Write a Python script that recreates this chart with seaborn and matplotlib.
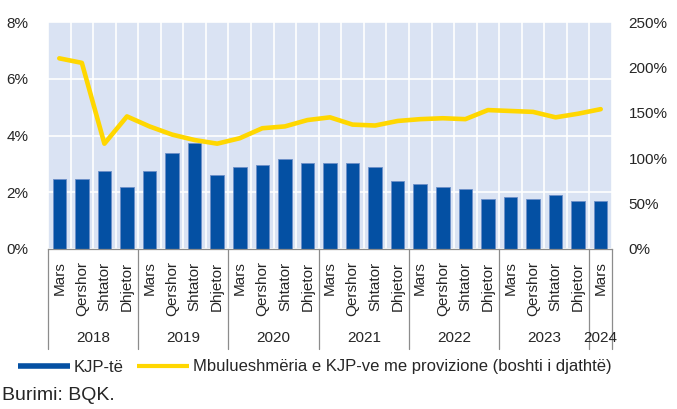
import matplotlib
matplotlib.use("Agg")
import matplotlib.pyplot as plt
from matplotlib.lines import Line2D
from matplotlib.ticker import FuncFormatter, MultipleLocator
import seaborn as sns
import pandas as pd
import numpy as np

# Quarterly data, March 2018 - March 2024
years = ["2018", "2019", "2020", "2021", "2022", "2023", "2024"]
months = ["Mars", "Qershor", "Shtator", "Dhjetor"]
quarter_labels = months * 6 + ["Mars"]
quarter_years = [y for y in years[:-1] for _ in range(4)] + ["2024"]

# Non-performing loans ratio (%), left axis
kjp = [2.48, 2.48, 2.76, 2.19,
       2.76, 3.38, 3.74, 2.62,
       2.90, 2.97, 3.17, 3.03,
       3.03, 3.03, 2.90, 2.41,
       2.28, 2.19, 2.12, 1.77,
       1.84, 1.77, 1.91, 1.70,
       1.70]

# Provision coverage of NPLs (%), right axis
coverage = [210, 205, 116, 146,
            135, 126, 120, 116,
            122, 133, 135, 142,
            145, 137, 136, 141,
            143, 144, 143, 153,
            152, 151, 145, 149,
            154]

df = pd.DataFrame({
    "key": [f"{y}-{m}-{i}" for i, (y, m) in enumerate(zip(quarter_years, quarter_labels))],
    "kjp": kjp,
    "pos": np.arange(len(kjp)),
    "coverage": coverage,
})

sns.set_theme(style="white")
plt.rcParams["font.family"] = ["Liberation Sans", "DejaVu Sans"]

BAR = "#0450A3"
LINE = "#FFD700"
BG = "#DAE3F3"
SEP = "#8C8C8C"
FS = 11

fig = plt.figure(figsize=(6.77, 4.09), dpi=100)
ax = fig.add_axes([48 / 677, 1 - 249 / 409, (612 - 48) / 677, (249 - 22) / 409])
ax.set_facecolor(BG)

sns.barplot(data=df, x="key", y="kjp", ax=ax, color=BAR, width=0.6,
            edgecolor="#6C8FC8", linewidth=0.6, saturation=1)

n = len(kjp)
ax.set_xlim(-0.5, n - 0.5)
ax.set_ylim(0, 8)
ax.yaxis.set_major_locator(MultipleLocator(2))
ax.yaxis.set_major_formatter(FuncFormatter(lambda v, p: f"{v:.0f}%"))
ax.set_xlabel("")
ax.set_ylabel("")

# white grid: horizontal at each tick, vertical between quarters
ax.set_xticks(np.arange(n))
ax.set_xticks(np.arange(-0.5, n, 1.0), minor=True)
ax.grid(True, axis="y", which="major", color="white", linewidth=1.2)
ax.grid(True, axis="x", which="minor", color="white", linewidth=1.2)
ax.grid(False, axis="x", which="major")
ax.set_axisbelow(True)

for s in ["top", "right", "left"]:
    ax.spines[s].set_visible(False)
ax.spines["bottom"].set_color(SEP)
ax.spines["bottom"].set_linewidth(0.9)

ax.tick_params(axis="x", which="both", length=0, pad=0)
ax.set_xticklabels([])
ax.tick_params(axis="y", length=0, labelsize=FS, pad=14)

trans = ax.get_xaxis_transform()
# month labels
for i, lab in enumerate(quarter_labels):
    ax.text(i, -0.055, lab, rotation=90, ha="center", va="top",
            fontsize=FS, transform=trans)

# year group separators and labels
bounds = [-0.5, 3.5, 7.5, 11.5, 15.5, 19.5, 23.5, 24.5]
for b in bounds:
    ax.plot([b, b], [0, -0.44], color=SEP, lw=0.9, transform=trans, clip_on=False)
for k, y in enumerate(years):
    lo, hi = bounds[k], bounds[k + 1]
    ax.text((lo + hi) / 2, -0.39, y, ha="center", va="center",
            fontsize=FS, transform=trans)

# coverage line on right axis
ax2 = ax.twinx()
sns.lineplot(data=df, x="pos", y="coverage", ax=ax2, color=LINE, linewidth=3.3,
             solid_joinstyle="round", solid_capstyle="round")
ax2.set_ylim(0, 250)
ax2.yaxis.set_major_locator(MultipleLocator(50))
ax2.yaxis.set_major_formatter(FuncFormatter(lambda v, p: f"{v:.0f}%"))
ax2.set_ylabel("")
ax2.set_xlabel("")
ax2.tick_params(axis="y", length=0, labelsize=FS, pad=12)
for s in ["top", "right", "left", "bottom"]:
    ax2.spines[s].set_visible(False)
ax2.grid(False)
ax.set_xlim(-0.5, n - 0.5)

LFS = 12
handles = [Line2D([0], [0], color=BAR, lw=4.0, solid_capstyle="butt"),
           Line2D([0], [0], color=LINE, lw=3.0, solid_capstyle="butt")]
labels = ["KJP-të", "Mbulueshmëria e KJP-ve me provizione (boshti i djathtë)"]
fig.legend(handles, labels, loc="center left", bbox_to_anchor=(18 / 677, 1 - 367 / 409),
           ncol=2, frameon=False, fontsize=LFS, handlelength=3.1, handletextpad=0.25,
           columnspacing=0.8, borderaxespad=0, borderpad=0)

fig.text(0.003, 1 - 396 / 409, "Burimi: BQK.", ha="left", va="center", fontsize=14)

fig.savefig("out.png", dpi=100)
